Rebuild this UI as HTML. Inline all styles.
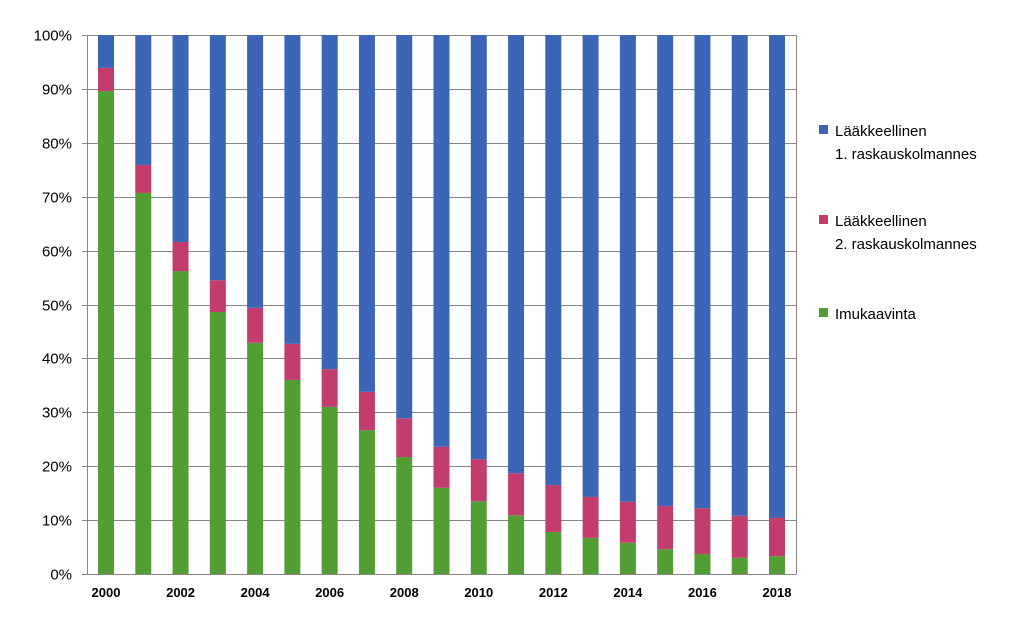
<!DOCTYPE html>
<html><head><meta charset="utf-8"><style>
body{margin:0;background:#fff;font-family:"Liberation Sans",sans-serif}
</style></head><body>
<svg width="1024" height="632" id="chart">
<g id="grid"></g><g id="bars"></g><g id="axes"></g>
<g font-size="15" fill="#000">
<rect x="819" y="125" width="9" height="9" fill="#3d65b5"/>
<text x="835" y="136">Lääkkeellinen</text>
<text x="835" y="159">1. raskauskolmannes</text>
<rect x="819" y="215" width="9" height="9" fill="#c23d6e"/>
<text x="835" y="226">Lääkkeellinen</text>
<text x="835" y="249">2. raskauskolmannes</text>
<rect x="819" y="308" width="9" height="9" fill="#539e34"/>
<text x="835" y="319">Imukaavinta</text>
</g>
</svg>
<script>
const years=[2000,2001,2002,2003,2004,2005,2006,2007,2008,2009,2010,2011,2012,2013,2014,2015,2016,2017,2018];
const imukaavinta=[89.6,70.7,56.2,48.6,42.9,36.0,31.0,26.7,21.7,16.0,13.5,10.9,7.8,6.7,5.8,4.6,3.7,3.0,3.3];
const second=[4.3,5.2,5.4,5.9,6.5,6.7,7.0,7.1,7.2,7.6,7.8,7.8,8.7,7.6,7.6,8.0,8.5,7.8,7.1];
const yTicks=[0,10,20,30,40,50,60,70,80,90,100];
const NS="http://www.w3.org/2000/svg";
const x0=87,x1=796,yTop=35,yBot=574;
const step=(777-106)/18;
const xPos=i=>106+i*step;
const yPos=v=>yBot-(v/100)*(yBot-yTop);
function mk(tag,attrs,parent){const e=document.createElementNS(NS,tag);for(const k in attrs)e.setAttribute(k,attrs[k]);parent.appendChild(e);return e;}
const grid=document.getElementById('grid'),bars=document.getElementById('bars'),axes=document.getElementById('axes');
yTicks.forEach(t=>{
 const y=Math.round(yPos(t))+0.5;
 const l=mk('line',{x1:x0-5,x2:x1,y1:y,y2:y,stroke:'#878787','stroke-width':1},grid);
 
 
 const tx=mk('text',{x:72,y:y+5,'text-anchor':'end','font-size':15},axes);
 tx.textContent=t+'%';
 
 
});
const bw=16;
years.forEach((yr,i)=>{
 const cx=xPos(i),g=imukaavinta[i],p=second[i];
 const segs=[[0,g,'#539e34','imukaavinta'],[g,g+p,'#c23d6e','2nd-trimester'],[g+p,100,'#3d65b5','1st-trimester']];
 segs.forEach(s=>{
  const r=mk('rect',{x:cx-bw/2,y:yPos(s[1]),width:bw,height:yPos(s[0])-yPos(s[1]),fill:s[2]},bars);
  
  
 });
 if(yr%2===0){
  const t=mk('text',{x:cx,y:597,'text-anchor':'middle','font-size':13,'font-weight':'bold'},axes);
  t.textContent=yr;
  
  
 }
});
const ya=mk('line',{x1:x0+0.5,x2:x0+0.5,y1:yTop,y2:yBot,stroke:'#878787'},axes);


const rb=mk('line',{x1:x1+0.5,x2:x1+0.5,y1:yTop,y2:yBot,stroke:'#878787'},axes);


</script>
</body></html>
